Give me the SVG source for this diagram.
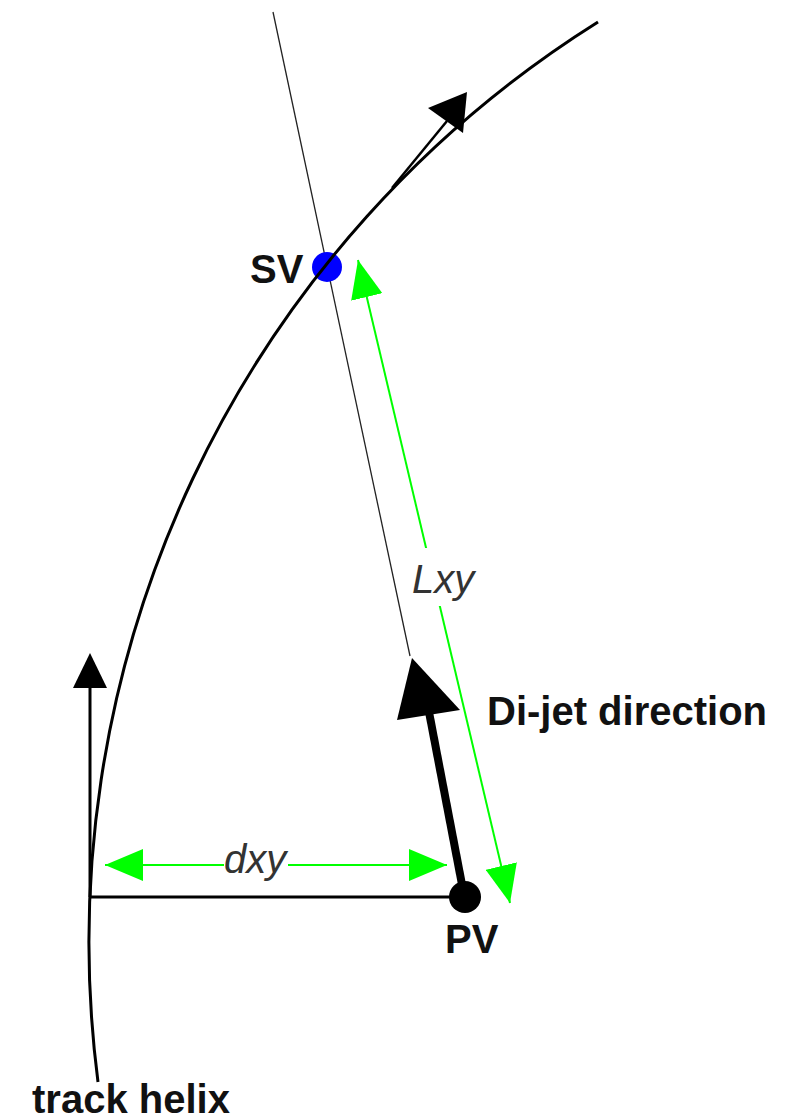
<svg xmlns="http://www.w3.org/2000/svg" width="792" height="1119" viewBox="0 0 792 1119">
<style>
.lbl{font-family:"Liberation Sans",Arial,sans-serif;font-weight:bold;font-size:40px;fill:#111}
.ital{font-family:"Liberation Sans",Arial,sans-serif;font-style:italic;font-size:40px;fill:#333}
.grn{stroke:#00ff00;stroke-width:2;fill:none}
.blk{stroke:#000;fill:none}
</style>
<defs>
<marker id="ga" viewBox="0 0 38 32" refX="38" refY="16" markerWidth="38" markerHeight="32" markerUnits="userSpaceOnUse" orient="auto-start-reverse">
<path d="M0,0 L38,16 L0,32 z" fill="#00ff00"/>
</marker>
</defs>
<rect width="792" height="1119" fill="#fff"/>
<g id="connectors">
<line x1="273" y1="12" x2="410" y2="656" stroke="#222" stroke-width="1.3"/>
<line x1="90" y1="897" x2="90" y2="688" class="blk" stroke-width="3"/>
<polygon points="90,653 73,688 107,688" fill="#000"/>
<line x1="90" y1="897" x2="462" y2="897" class="blk" stroke-width="3"/>
<line x1="464" y1="895" x2="429" y2="712" class="blk" stroke-width="8"/>
<polygon points="412,658 397,720 460,710" fill="#000"/>
<line x1="392" y1="188" x2="447" y2="121" class="blk" stroke-width="2.5"/>
<polygon points="467,92 428,108 463,133" fill="#000"/>
<line x1="105" y1="865" x2="447" y2="865" class="grn" marker-start="url(#ga)" marker-end="url(#ga)"/>
<line x1="358" y1="260" x2="510" y2="903" class="grn" marker-start="url(#ga)" marker-end="url(#ga)"/>
</g>
<g id="SV">
<circle cx="327" cy="267" r="15" fill="#0000ff"/>
<text class="lbl" x="250" y="283">SV</text>
</g>
<g id="track-helix">
<path d="M98 1082 A1086 1086 0 0 1 598 22" class="blk" stroke-width="3"/>
<text class="lbl" x="32" y="1113">track helix</text>
</g>
<g id="PV">
<circle cx="465" cy="897" r="16" fill="#000"/>
<text class="lbl" x="445" y="953">PV</text>
</g>
<g id="dijet-label">
<text class="lbl" x="487" y="725">Di-jet direction</text>
</g>
<g id="dxy-label">
<rect x="224" y="850" width="64" height="26" fill="#fff"/>
<text class="ital" x="224" y="873">dxy</text>
</g>
<g id="lxy-label">
<rect x="420" y="548" width="30" height="58" fill="#fff"/>
<text class="ital" x="412" y="593">Lxy</text>
</g>
</svg>
